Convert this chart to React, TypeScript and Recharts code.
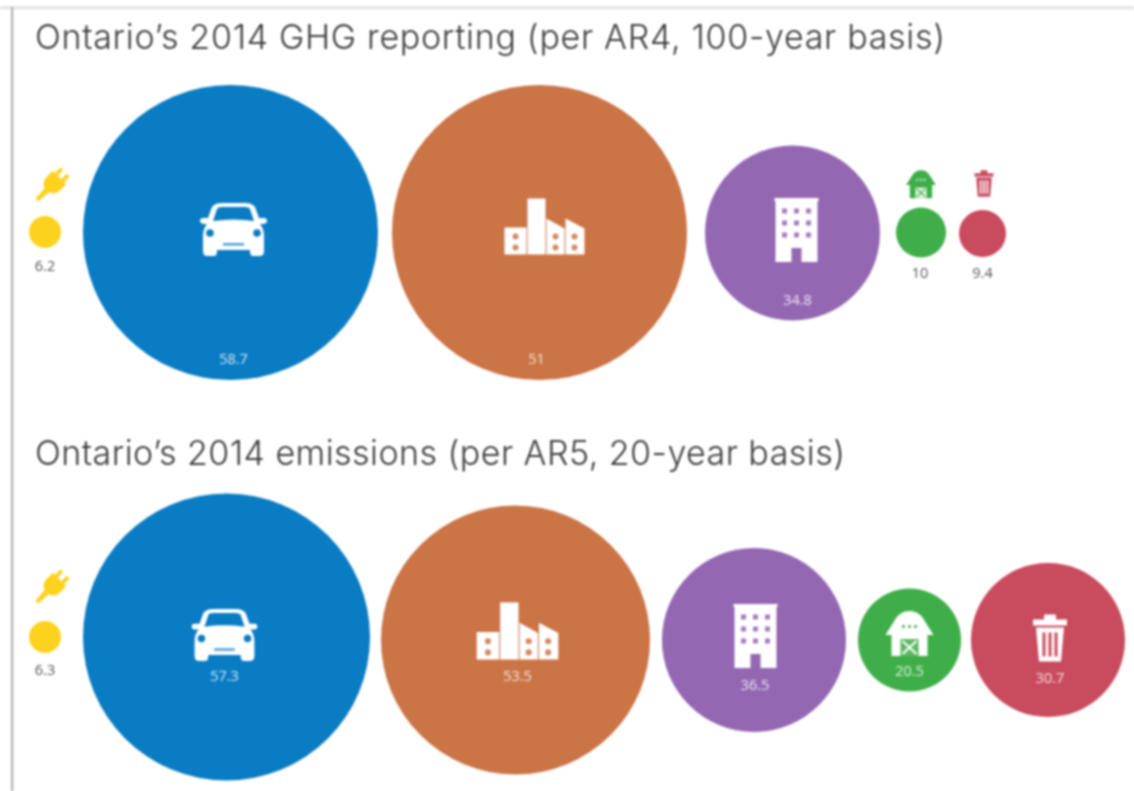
import React from "react";
import { ScatterChart, Scatter, XAxis, YAxis, ZAxis } from "recharts";

const W = 1134;
const H = 791;

const sectors = ["Electricity", "Transportation", "Industry", "Buildings", "Agriculture", "Waste"];
const colors = ["#fdd21e", "#0a7cc4", "#cb7446", "#9467b3", "#3fae49", "#c94b5e"];

const titleAR4 = "Ontario\u2019s 2014 GHG reporting (per AR4, 100-year basis)";
const titleAR5 = "Ontario\u2019s 2014 emissions (per AR5, 20-year basis)";

// printed values
const valuesAR4 = [6.2, 58.7, 51, 34.8, 10, 9.4];
const valuesAR5 = [6.3, 57.3, 53.5, 36.5, 20.5, 30.7];

// size each bubble is actually drawn at (the source does not always match its label)
const drawnAR4 = [6.4, 59, 59, 35, 10, 9.4];
const drawnAR5 = [6.4, 57.4, 53.8, 36.8, 20.6, 30.8];

// bubble centres, chart units
const xAR4 = [45, 230.5, 539.5, 792.5, 921, 982.5];
const yAR4 = [232, 232.5, 232.5, 233, 232.5, 233.5];
const xAR5 = [45, 226.5, 515.5, 754, 909.5, 1048];
const yAR5 = [637, 637, 640, 640, 640, 640];

// label and icon placement, relative to bubble centre
const labelDyAR4 = [35, 128, 128, 68, 42, 41];
const labelDxAR4 = [0, 3, -3, 5, -1, 0];
const labelDyAR5 = [34, 40, 37, 46, 32, 39];
const labelDxAR5 = [0, -2, 2, 1, 0, 2];
const iconAR4 = [
  { dx: 6, dy: -46, s: 1 },
  { dx: 3, dy: -3, s: 1 },
  { dx: 5, dy: -6, s: 1 },
  { dx: 4, dy: -3, s: 1 },
  { dx: 0, dy: -48, s: 0.62 },
  { dx: 1.5, dy: -50, s: 0.56 },
];
const iconAR5 = [
  { dx: 6, dy: -49, s: 1 },
  { dx: -2, dy: -2, s: 0.98 },
  { dx: 2, dy: -9, s: 1.02 },
  { dx: 1.5, dy: -4, s: 1 },
  { dx: 0, dy: -6, s: 1 },
  { dx: 2, dy: -2, s: 1 },
];

const build = (vals: number[], drawn: number[], xs: number[], ys: number[], ldx: number[], ldy: number[], icons: any[]) =>
  sectors.map((sector, i) => ({
    sector,
    value: vals[i],
    z: drawn[i] * drawn[i],
    x: xs[i],
    y: ys[i],
    color: colors[i],
    ldx: ldx[i],
    ldy: ldy[i],
    icon: icons[i],
  }));

const dataAR4 = build(valuesAR4, drawnAR4, xAR4, yAR4, labelDxAR4, labelDyAR4, iconAR4);
const dataAR5 = build(valuesAR5, drawnAR5, xAR5, yAR5, labelDxAR5, labelDyAR5, iconAR5);

const Plug = ({ c }: { c: string }) => (
  <g transform="rotate(45)" fill={c}>
    <rect x={-6.5} y={-20} width={4} height={10} rx={1} />
    <rect x={2.5} y={-20} width={4} height={10} rx={1} />
    <path d="M-9.5 -12 H9.5 V-4 Q9.5 4 3 6 L2 20 H-2 L-3 6 Q-9.5 4 -9.5 -4 Z" />
  </g>
);

const Car = ({ fg, bg }: { fg: string; bg: string }) => (
  <g transform="translate(-33.5,-26.5)">
    <path
      fill={fg}
      d="M12 4 Q15 0 22 0 H45 Q52 0 55 4 L59 15 H64 Q67 15 67 18 Q67 21 62 21 L60 21 Q64 26 64 33 V48 Q64 53 60 53 H53 Q50 53 50 48 V47 H17 V48 Q17 53 14 53 H7 Q3 53 3 48 V33 Q3 26 7 21 L5 21 Q0 21 0 18 Q0 15 3 15 H8 Z"
    />
    <path fill={bg} d="M17 6 Q18 4 22 4 H45 Q49 4 50 6 L54 18 Q33.5 15 13 18 Z" />
    <circle cx={10} cy={30} r={3.8} fill={bg} />
    <circle cx={57} cy={30} r={3.8} fill={bg} />
    <rect x={23} y={40} width={21} height={2.6} fill={bg} opacity={0.7} />
  </g>
);

const Factory = ({ fg, bg }: { fg: string; bg: string }) => {
  const holes: [number, number][] = [[12, 38], [12, 49], [52, 38], [52, 49], [71, 38], [71, 49]];
  return (
    <g transform="translate(-41,-28)">
      <rect x={1} y={29} width={22} height={27} fill={fg} />
      <rect x={24} y={0} width={18} height={56} fill={fg} />
      <path d="M43 20 L61 30 V56 H43 Z" fill={fg} />
      <path d="M62 20 L81 30 V56 H62 Z" fill={fg} />
      {holes.map(([x, y], i) => (
        <circle key={i} cx={x} cy={y} r={3} fill={bg} opacity={0.85} />
      ))}
    </g>
  );
};

const Building = ({ fg, bg }: { fg: string; bg: string }) => {
  const cols = [10, 22, 34];
  const rows = [13, 25, 37];
  return (
    <g transform="translate(-22,-32)">
      <rect x={1} y={2} width={42} height={62} fill={fg} />
      <rect x={0} y={0} width={44} height={3} fill={fg} />
      {rows.map((y) =>
        cols.map((x) => <rect key={`${x}-${y}`} x={x - 2.5} y={y - 2.5} width={5} height={5} fill={bg} opacity={0.85} />)
      )}
      <rect x={17} y={50} width={10} height={14} fill={bg} />
    </g>
  );
};

const Barn = ({ fg, bg }: { fg: string; bg: string }) => (
  <g transform="translate(-23,-23)">
    <path fill={fg} d="M23 0 Q32 0 37 8 L47 24 L41 24 V45 H5 V24 L-1 24 L9 8 Q14 0 23 0 Z" />
    {[17, 23, 29].map((x) => (
      <rect key={x} x={x - 1.5} y={14} width={3} height={3} fill={bg} opacity={0.8} />
    ))}
    <rect x={14} y={28} width={18} height={17} fill={bg} opacity={0.85} />
    <path d="M16 30 L30 43 M30 30 L16 43" stroke={fg} strokeWidth={2} />
  </g>
);

const Trash = ({ fg, bg }: { fg: string; bg: string }) => (
  <g transform="translate(-17,-23.5)">
    <path fill={fg} d="M11 5 V1 Q11 0 12 0 H22 Q23 0 23 1 V5 H34 V11 H0 V5 Z" />
    <path fill={fg} d="M3 13 H31 L28 47 H6 Z" />
    {[11, 17, 23].map((x) => (
      <rect key={x} x={x - 1.5} y={18} width={3} height={24} fill={bg} />
    ))}
  </g>
);

const Icon = ({ i, fg, bg }: { i: number; fg: string; bg: string }) => {
  if (i === 0) return <Plug c={fg} />;
  if (i === 1) return <Car fg={fg} bg={bg} />;
  if (i === 2) return <Factory fg={fg} bg={bg} />;
  if (i === 3) return <Building fg={fg} bg={bg} />;
  if (i === 4) return <Barn fg={fg} bg={bg} />;
  return <Trash fg={fg} bg={bg} />;
};

const Bubble = (props: any) => {
  const { cx, cy, width, payload } = props;
  const r = width / 2;
  const i = sectors.indexOf(payload.sector);
  const small = r < 30;
  const outsideIcon = payload.icon.dy < -40;
  return (
    <g>
      <circle cx={cx} cy={cy} r={r} fill={payload.color} />
      <g transform={`translate(${cx + payload.icon.dx},${cy + payload.icon.dy}) scale(${payload.icon.s})`}>
        <Icon i={i} fg={outsideIcon ? payload.color : "#ffffff"} bg={outsideIcon ? "#ffffff" : payload.color} />
      </g>
      <text
        x={cx + payload.ldx}
        y={cy + payload.ldy}
        textAnchor="middle"
        dominantBaseline="middle"
        fontFamily="'Open Sans', sans-serif"
        fontSize={14.5}
        fill={small ? "#555555" : "#ffffff"}
        fillOpacity={small ? 1 : 0.82}
      >
        {payload.value}
      </text>
    </g>
  );
};

export default function App() {
  return (
    <div style={{ position: "absolute", left: 0, top: 0, width: W, height: H, background: "#fff", filter: "blur(0.8px)", overflow: "hidden" }}>
      <ScatterChart width={W} height={H} margin={{ top: 0, right: 0, bottom: 0, left: 0 }}>
        <XAxis type="number" dataKey="x" domain={[0, W]} hide />
        <YAxis type="number" dataKey="y" domain={[0, H]} reversed hide />
        <ZAxis type="number" dataKey="z" domain={[0, 59 * 59]} range={[0, Math.PI * 147.5 * 147.5]} />
        <rect x={12} y={8} width={W} height={H} fill="#ffffff" />
        <rect x={0} y={6} width={W} height={3.5} fill="#e6e6e6" />
        <rect x={11} y={7} width={2.2} height={H} fill="#b0b0b0" />
        <text x={35} y={49} fontFamily="Inter, sans-serif" fontWeight={300} fontSize={34} fill="#3c3c3c" textLength={910} lengthAdjust="spacing">
          {titleAR4}
        </text>
        <text x={35} y={465} fontFamily="Inter, sans-serif" fontWeight={300} fontSize={34} fill="#3c3c3c" textLength={810} lengthAdjust="spacing">
          {titleAR5}
        </text>
        <Scatter name="AR4" data={dataAR4} isAnimationActive={false} shape={Bubble} />
        <Scatter name="AR5" data={dataAR5} isAnimationActive={false} shape={Bubble} />
      </ScatterChart>
    </div>
  );
}
